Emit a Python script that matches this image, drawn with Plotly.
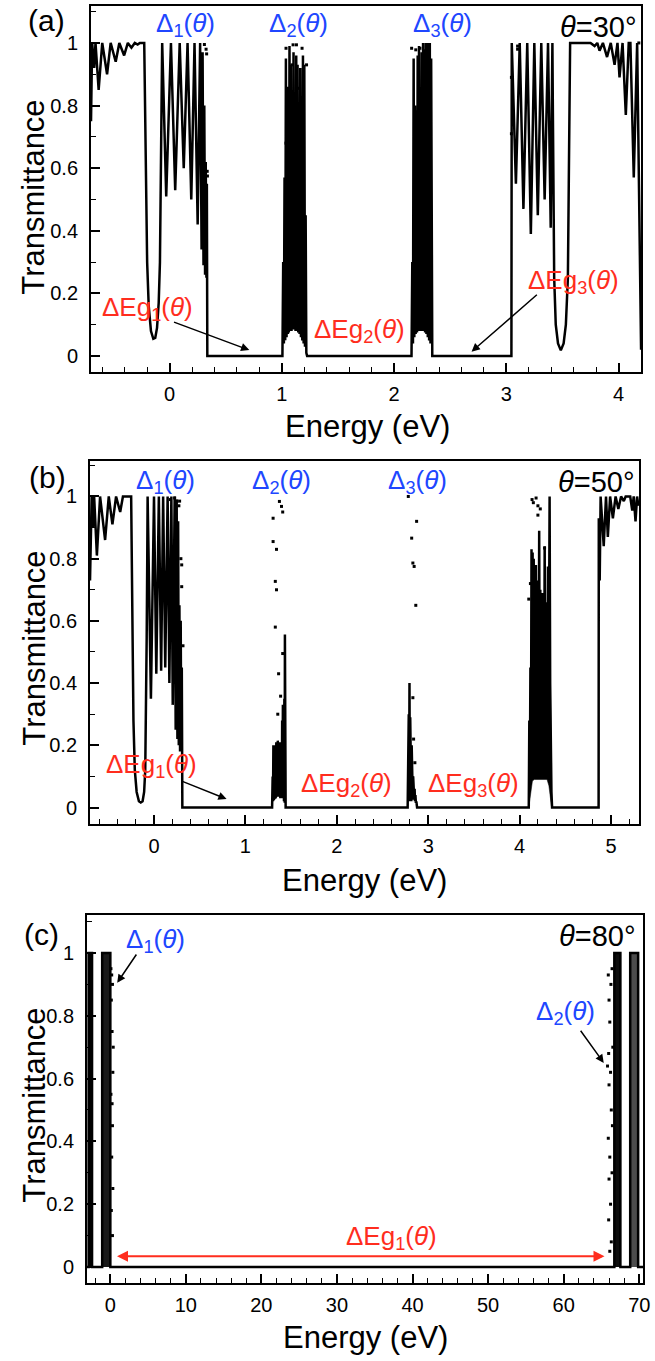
import plotly.graph_objects as go

FONT = "Liberation Sans, Arial, Helvetica, sans-serif"
BLUE = "#2046ff"
RED = "#ff2d1e"

# ---------------- panel (a)  theta = 30 deg ----------------
A_curve = [
    (-0.700, 0.75), (-0.690, 1.00), (-0.672, 0.92), (-0.660, 1.00), (-0.632, 0.85), (-0.600, 1.00),
    (-0.557, 0.90), (-0.525, 1.00), (-0.480, 0.94), (-0.448, 1.00), (-0.405, 0.96), (-0.372, 1.00),
    (-0.340, 0.985), (-0.310, 1.00), (-0.285, 0.995), (-0.265, 1.00), (-0.226, 1.00),
    (-0.220, 0.85), (-0.213, 0.55), (-0.200, 0.30), (-0.186, 0.16), (-0.166, 0.08), (-0.145, 0.055),
    (-0.128, 0.058), (-0.112, 0.09), (-0.097, 0.17), (-0.086, 0.30), (-0.077, 0.55), (-0.070, 0.82),
    (-0.066, 1.00),
    (-0.030, 0.51), (0.012, 1.00), (0.050, 0.53), (0.090, 1.00), (0.126, 0.60), (0.160, 1.00),
    (0.193, 0.50), (0.222, 1.00), (0.250, 0.42), (0.272, 1.00), (0.285, 0.34), (0.294, 0.97),
    (0.302, 0.29), (0.309, 0.80), (0.316, 0.26), (0.322, 0.62), (0.328, 0.25), (0.332, 0.55),
    (0.336, 0.00),
    (1.005, 0.00), (1.012, 0.30), (1.018, 0.04), (1.024, 0.57), (1.030, 0.05), (1.036, 0.95),
    (1.042, 0.06), (1.048, 0.86), (1.054, 0.07), (1.058, 0.70), (1.062, 0.075), (1.068, 0.99),
    (1.074, 0.08), (1.080, 0.93), (1.086, 0.08), (1.092, 0.85), (1.098, 0.085), (1.104, 0.97),
    (1.110, 0.085), (1.116, 0.75), (1.122, 0.08), (1.128, 0.96), (1.134, 0.08), (1.140, 0.93),
    (1.146, 0.075), (1.152, 0.70), (1.158, 0.07), (1.164, 0.92), (1.170, 0.06), (1.176, 0.74),
    (1.182, 0.05), (1.188, 0.96), (1.194, 0.04), (1.200, 0.93), (1.206, 0.03), (1.212, 0.45),
    (1.218, 0.01), (1.225, 0.00),
    (2.155, 0.00), (2.162, 0.30), (2.168, 0.04), (2.174, 0.95), (2.180, 0.06), (2.186, 0.80),
    (2.192, 0.07), (2.198, 0.78), (2.204, 0.075), (2.210, 0.96), (2.216, 0.08), (2.222, 0.99),
    (2.228, 0.08), (2.234, 0.85), (2.240, 0.08), (2.246, 0.97), (2.252, 0.08), (2.258, 1.00),
    (2.264, 0.08), (2.270, 0.98), (2.276, 0.075), (2.282, 1.00), (2.288, 0.07), (2.294, 1.00),
    (2.300, 0.06), (2.306, 1.00), (2.312, 0.05), (2.318, 1.00), (2.324, 0.04), (2.330, 0.95),
    (2.336, 0.01), (2.340, 0.00),
    (3.045, 0.00), (3.048, 1.00), (3.085, 0.55), (3.119, 1.00), (3.152, 0.47), (3.186, 1.00),
    (3.218, 0.39), (3.249, 1.00), (3.280, 0.45), (3.311, 1.00), (3.341, 0.50), (3.371, 1.00),
    (3.395, 0.41), (3.410, 1.00), (3.414, 0.80), (3.419, 0.55), (3.426, 0.25), (3.440, 0.10),
    (3.460, 0.04), (3.485, 0.018), (3.510, 0.04), (3.530, 0.10), (3.548, 0.25), (3.556, 0.55),
    (3.562, 0.80), (3.568, 1.00),
    (3.600, 1.00), (3.750, 1.00), (3.786, 0.99), (3.810, 1.00), (3.830, 0.975), (3.860, 1.00),
    (3.897, 0.955), (3.930, 1.00), (3.964, 0.93), (3.990, 1.00), (4.008, 0.89), (4.035, 1.00),
    (4.064, 0.77), (4.090, 1.00), (4.105, 1.00), (4.135, 0.57), (4.165, 1.00), (4.200, 0.02),
]
A_dots_x = [0.310, 0.325, 0.330, 0.335, 0.337, 1.037, 1.100, 1.130, 1.180, 1.090, 1.155, 1.037, 1.220,
            2.156, 2.193, 2.204, 2.200, 2.230, 3.045, 3.045, 3.100, 3.100, 4.180]
A_dots_y = [0.995, 0.980, 0.965, 0.590, 0.575, 0.983, 0.994, 0.994, 0.983, 0.930, 0.855, 0.680, 0.930,
            0.983, 0.978, 0.780, 0.770, 0.983, 0.890, 0.710, 0.990, 0.980, 1.000]

# ---------------- panel (b)  theta = 50 deg ----------------
B_curve = [
    (-0.700, 0.73), (-0.690, 0.85), (-0.682, 1.00), (-0.668, 0.90), (-0.655, 1.00), (-0.625, 0.81),
    (-0.590, 1.00), (-0.535, 0.86), (-0.495, 1.00), (-0.455, 0.91), (-0.415, 1.00), (-0.370, 0.95),
    (-0.340, 1.00), (-0.250, 1.00),
    (-0.243, 0.80), (-0.236, 0.55), (-0.225, 0.28), (-0.210, 0.12), (-0.190, 0.05), (-0.165, 0.02),
    (-0.145, 0.016), (-0.125, 0.02), (-0.108, 0.05), (-0.096, 0.12), (-0.088, 0.28), (-0.080, 0.55),
    (-0.074, 0.80), (-0.070, 1.00),
    (-0.034, 0.35), (0.000, 1.00), (0.025, 0.43), (0.053, 1.00), (0.078, 0.44), (0.100, 1.00),
    (0.123, 0.45), (0.149, 1.00), (0.168, 0.40), (0.190, 1.00), (0.205, 0.33), (0.226, 1.00),
    (0.237, 0.25), (0.248, 0.99), (0.256, 0.22), (0.264, 0.92), (0.271, 0.20), (0.278, 0.65),
    (0.285, 0.18), (0.292, 0.60), (0.298, 0.20), (0.304, 0.45), (0.310, 0.00),
    (1.292, 0.00), (1.298, 0.10), (1.302, 0.02), (1.306, 0.20), (1.310, 0.025), (1.314, 0.18),
    (1.318, 0.03), (1.322, 0.20), (1.326, 0.03), (1.330, 0.12), (1.334, 0.035), (1.338, 0.21),
    (1.342, 0.035), (1.346, 0.20), (1.350, 0.035), (1.354, 0.215), (1.358, 0.035), (1.362, 0.20),
    (1.366, 0.035), (1.370, 0.21), (1.374, 0.035), (1.378, 0.19), (1.382, 0.03), (1.386, 0.21),
    (1.390, 0.03), (1.394, 0.20), (1.398, 0.03), (1.402, 0.28), (1.406, 0.03), (1.410, 0.33),
    (1.414, 0.025), (1.418, 0.22), (1.422, 0.02), (1.426, 0.35), (1.430, 0.015), (1.432, 0.556),
    (1.436, 0.01), (1.440, 0.00),
    (2.775, 0.00), (2.779, 0.15), (2.783, 0.02), (2.787, 0.30), (2.791, 0.02), (2.795, 0.40),
    (2.799, 0.02), (2.803, 0.29), (2.807, 0.02), (2.811, 0.25), (2.815, 0.02), (2.819, 0.20),
    (2.823, 0.025), (2.827, 0.15), (2.831, 0.025), (2.835, 0.10), (2.839, 0.025), (2.843, 0.08),
    (2.847, 0.025), (2.851, 0.06), (2.855, 0.02), (2.860, 0.04), (2.865, 0.015), (2.870, 0.02),
    (2.878, 0.00),
    (4.100, 0.00), (4.106, 0.28), (4.112, 0.10), (4.118, 0.45), (4.124, 0.15), (4.130, 0.83),
    (4.136, 0.30), (4.142, 0.82), (4.148, 0.35), (4.154, 0.80), (4.160, 0.30), (4.166, 0.61),
    (4.172, 0.30), (4.178, 0.78), (4.184, 0.30), (4.190, 0.73), (4.196, 0.30), (4.202, 0.60),
    (4.208, 0.30), (4.214, 0.89), (4.220, 0.30), (4.226, 0.70), (4.232, 0.30), (4.238, 0.65),
    (4.244, 0.30), (4.250, 0.69), (4.256, 0.30), (4.262, 0.62), (4.268, 0.30), (4.274, 0.84),
    (4.280, 0.30), (4.286, 0.66), (4.292, 0.30), (4.298, 0.60), (4.304, 0.30), (4.310, 0.775),
    (4.316, 0.30), (4.322, 0.60), (4.328, 1.00), (4.334, 0.40), (4.340, 0.20), (4.348, 0.05),
    (4.355, 0.00),
    (4.864, 0.00), (4.866, 0.93), (4.876, 0.73), (4.886, 1.00), (4.920, 0.84), (4.945, 1.00),
    (4.965, 0.87), (4.990, 1.00), (5.020, 0.93), (5.050, 1.00), (5.080, 0.96), (5.110, 1.00),
    (5.140, 0.985), (5.160, 1.00), (5.210, 1.00), (5.232, 0.955), (5.248, 1.00), (5.268, 0.92),
    (5.285, 1.00), (5.300, 0.97),
]
# dense core of the fourth band (lower envelope then upper envelope)
B_core = [
    (4.100, 0.00), (4.120, 0.05), (4.140, 0.085), (4.160, 0.09), (4.300, 0.09), (4.320, 0.07),
    (4.335, 0.03), (4.350, 0.00), (4.335, 0.45), (4.320, 0.60), (4.300, 0.62), (4.250, 0.58),
    (4.200, 0.60), (4.160, 0.62), (4.140, 0.50), (4.120, 0.35), (4.105, 0.20), (4.100, 0.00),
]
B_dots_x = [0.180, 0.226, 0.250, 0.272, 0.280, 0.294, 0.303, 0.303, 0.317,
            1.303, 1.303, 1.340, 1.327, 1.340, 1.327, 1.363, 1.372, 1.385, 1.395, 1.408, 1.354, 1.408,
            2.782, 2.873, 2.819, 2.832, 2.846, 2.864, 2.832, 2.840, 2.854,
            4.136, 4.150, 4.180, 4.200, 4.200, 4.226, 4.118, 4.100, 4.273]
B_dots_y = [0.990, 0.995, 0.985, 0.970, 0.985, 0.800, 0.780, 0.710, 0.520,
            0.930, 0.855, 0.830, 0.727, 0.700, 0.580, 0.430, 0.984, 0.358, 0.968, 0.950, 0.300, 0.495,
            1.000, 0.920, 0.866, 0.786, 0.775, 0.650, 0.353, 0.220, 0.144,
            0.990, 0.980, 0.995, 0.970, 0.940, 0.960, 0.720, 0.670, 0.834]

# ---------------- panel (c)  theta = 80 deg ----------------
C_curve = [
    (-3.06, 0.00), (-2.85, 0.00), (-2.85, 1.00), (-2.40, 1.00), (-2.40, 0.00), (-1.06, 0.00),
    (-1.06, 1.00), (0.02, 1.00), (0.02, 0.00), (66.70, 0.00), (66.70, 1.00), (67.50, 1.00),
    (67.50, 0.00), (68.80, 0.00), (68.80, 1.00), (69.85, 1.00), (69.85, 0.00), (70.50, 0.00),
]
C_bar1 = [(-2.85, 0.0), (-2.85, 1.0), (-2.40, 1.0), (-2.40, 0.0)]
C_band1 = [(-1.06, 0.0), (-1.06, 1.0), (0.02, 1.0), (0.02, 0.0)]
C_band2 = [(66.70, 0.0), (66.70, 1.0), (67.50, 1.0), (67.50, 0.0)]
C_bar2 = [(68.80, 0.0), (68.80, 1.0), (69.85, 1.0), (69.85, 0.0)]
C_dots_x = [0.20, 0.30, 0.15, 0.25, 0.35, 0.10, 0.30, 0.20, 0.35, 0.15, 0.30, 0.40, 0.25, 0.10,
            65.90, 66.00, 66.10, 65.95, 66.20, 66.00, 66.30, 65.90, 66.10, 66.00, 66.20, 65.95,
            66.30, 66.10, 66.40, 66.50, 66.40, 65.80, 66.25, 66.45]
C_dots_y = [0.93, 0.90, 0.85, 0.75, 0.62, 0.55, 0.45, 0.35, 0.25, 0.18, 0.10, 0.70, 0.52, 0.95,
            0.93, 0.85, 0.78, 0.68, 0.62, 0.58, 0.50, 0.41, 0.35, 0.28, 0.20, 0.15,
            0.08, 0.05, 0.95, 0.70, 0.30, 0.64, 0.90, 0.45]

fig = go.Figure()


def add_curve(pairs, xa, ya, width=2.5):
    fig.add_trace(go.Scatter(x=[p[0] for p in pairs], y=[p[1] for p in pairs], mode="lines",
                             line=dict(color="black", width=width), xaxis=xa, yaxis=ya,
                             showlegend=False, hoverinfo="skip"))


def add_fill(pairs, xa, ya, color="black"):
    fig.add_trace(go.Scatter(x=[p[0] for p in pairs], y=[p[1] for p in pairs], mode="lines",
                             fill="toself", fillcolor=color, line=dict(color=color, width=0.5),
                             xaxis=xa, yaxis=ya, showlegend=False, hoverinfo="skip"))


def add_dots(xs, ys, xa, ya):
    fig.add_trace(go.Scatter(x=xs, y=ys, mode="markers", marker=dict(color="black", size=3, symbol="square"),
                             xaxis=xa, yaxis=ya, showlegend=False, hoverinfo="skip"))


add_curve(A_curve, "x", "y")
add_dots(A_dots_x, A_dots_y, "x", "y")

add_fill(B_core, "x2", "y2")
add_curve(B_curve, "x2", "y2")
add_dots(B_dots_x, B_dots_y, "x2", "y2")

add_fill(C_bar1, "x3", "y3")
add_fill(C_band1, "x3", "y3", "rgba(0,0,0,0.9)")
add_fill(C_band2, "x3", "y3", "rgba(0,0,0,0.95)")
add_fill(C_bar2, "x3", "y3", "rgba(0,0,0,0.7)")
add_curve(C_curve, "x3", "y3")
add_dots(C_dots_x, C_dots_y, "x3", "y3")

W, H = 655, 1361


def px(x):
    return x / W


def py(y):
    return 1 - y / H


def xaxis(dom, rng, dtick, mdtick, anchor):
    return dict(domain=[px(dom[0]), px(dom[1])], range=rng, anchor=anchor, showline=True, linecolor="black",
                linewidth=2, mirror=True, ticks="inside", ticklen=9, tickwidth=1.5, tickcolor="black",
                dtick=dtick, tick0=0, showgrid=False, zeroline=False, ticklabelstandoff=3,
                ticklabeloverflow="allow",
                tickfont=dict(family=FONT, size=20, color="black"),
                minor=dict(ticks="inside", ticklen=5, tickwidth=1.2, tickcolor="black", dtick=mdtick, showgrid=False))


def yaxis(dom, rng, anchor):
    return dict(domain=[py(dom[1]), py(dom[0])], range=rng, anchor=anchor, showline=True, linecolor="black",
                linewidth=2, mirror=True, ticks="inside", ticklen=9, tickwidth=1.5, tickcolor="black",
                dtick=0.2, tick0=0, showgrid=False, zeroline=False, ticklabelstandoff=7,
                tickfont=dict(family=FONT, size=20, color="black"),
                minor=dict(ticks="inside", ticklen=5, tickwidth=1.2, tickcolor="black", dtick=0.1, showgrid=False))


ann = []


def text(x, y, s, color, size, xref, yref, xanchor="center", angle=0):
    ann.append(dict(x=x, y=y, text=s, showarrow=False, xref=xref, yref=yref, xanchor=xanchor, yanchor="middle",
                    textangle=angle, font=dict(family=FONT, size=size, color=color)))


def arrow(x0, y0, x1, y1, xref, yref, color="black", both=False, width=1.5):
    ann.append(dict(x=x1, y=y1, ax=x0, ay=y0, xref=xref, yref=yref, axref=xref, ayref=yref, text="",
                    showarrow=True, arrowhead=2, arrowsize=1.1, arrowwidth=width, arrowcolor=color,
                    arrowside="end+start" if both else "end", standoff=0, startstandoff=0))


d1 = "Δ<sub>1</sub>(<i>θ</i>)"
d2 = "Δ<sub>2</sub>(<i>θ</i>)"
d3 = "Δ<sub>3</sub>(<i>θ</i>)"
g1 = "ΔEg<sub>1</sub>(<i>θ</i>)"
g2 = "ΔEg<sub>2</sub>(<i>θ</i>)"
g3 = "ΔEg<sub>3</sub>(<i>θ</i>)"

# panel (a)
text(0.14, 1.06, d1, BLUE, 26, "x", "y")
text(1.15, 1.06, d2, BLUE, 26, "x", "y")
text(2.43, 1.06, d3, BLUE, 26, "x", "y")
text(4.18, 1.05, "<i>θ</i>=30°", "black", 29, "x", "y", "right")
text(-0.20, 0.153, g1, RED, 26, "x", "y")
text(1.69, 0.083, g2, RED, 26, "x", "y")
text(3.60, 0.237, g3, RED, 26, "x", "y")
arrow(0.026, 0.11, 0.71, 0.019, "x", "y")
arrow(3.285, 0.20, 2.69, 0.014, "x", "y")

# panel (b)
text(0.13, 1.048, d1, BLUE, 26, "x2", "y2")
text(1.40, 1.048, d2, BLUE, 26, "x2", "y2")
text(2.88, 1.048, d3, BLUE, 26, "x2", "y2")
text(5.28, 1.048, "<i>θ</i>=50°", "black", 29, "x2", "y2", "right")
text(-0.03, 0.134, g1, RED, 26, "x2", "y2")
text(2.11, 0.075, g2, RED, 26, "x2", "y2")
text(3.50, 0.075, g3, RED, 26, "x2", "y2")
arrow(0.294, 0.086, 0.794, 0.027, "x2", "y2")

# panel (c)
text(6.0, 1.04, d1, BLUE, 26, "x3", "y3")
text(60.3, 0.81, d2, BLUE, 26, "x3", "y3")
text(69.8, 1.053, "<i>θ</i>=80°", "black", 29, "x3", "y3", "right")
text(37.2, 0.095, g1, RED, 26, "x3", "y3")
arrow(3.6, 1.0, 0.93, 0.905, "x3", "y3")
arrow(62.1, 0.757, 65.3, 0.65, "x3", "y3")
arrow(0.7, 0.034, 65.4, 0.034, "x3", "y3", RED, both=True, width=2)

# axis titles and panel letters (paper coords)
for yc in (197, 648, 1105):
    text(px(34), py(yc), "Transmittance", "black", 31, "paper", "paper", angle=-90)
for xc, yc in ((371, 426), (368, 880), (369, 1337)):
    text(px(xc), py(yc), "Energy (eV)", "black", 31, "paper", "paper")
for s, xc, yc in (("(a)", 47, 20), ("(b)", 48, 477), ("(c)", 42, 934)):
    text(px(xc), py(yc), s, "black", 30, "paper", "paper")

fig.update_layout(
    width=W, height=H, margin=dict(l=0, r=0, t=0, b=0),
    paper_bgcolor="white", plot_bgcolor="white", showlegend=False,
    font=dict(family=FONT, color="black"),
    xaxis=xaxis((92, 648), [-0.70, 4.20], 1, 0.2, "y"),
    yaxis=yaxis((6, 372), [-0.051, 1.118], "x"),
    xaxis2=xaxis((91, 646), [-0.70, 5.307], 1, 0.2, "y2"),
    yaxis2=yaxis((461, 824), [-0.053, 1.114], "x2"),
    xaxis3=xaxis((88, 650), [-3.06, 70.5], 10, 2, "y3"),
    yaxis3=yaxis((915, 1283), [-0.051, 1.121], "x3"),
    annotations=ann,
)

fig.write_html("out.html", config={"displayModeBar": False},
               post_script="document.body.style.margin='0';document.body.style.overflow='hidden';")
